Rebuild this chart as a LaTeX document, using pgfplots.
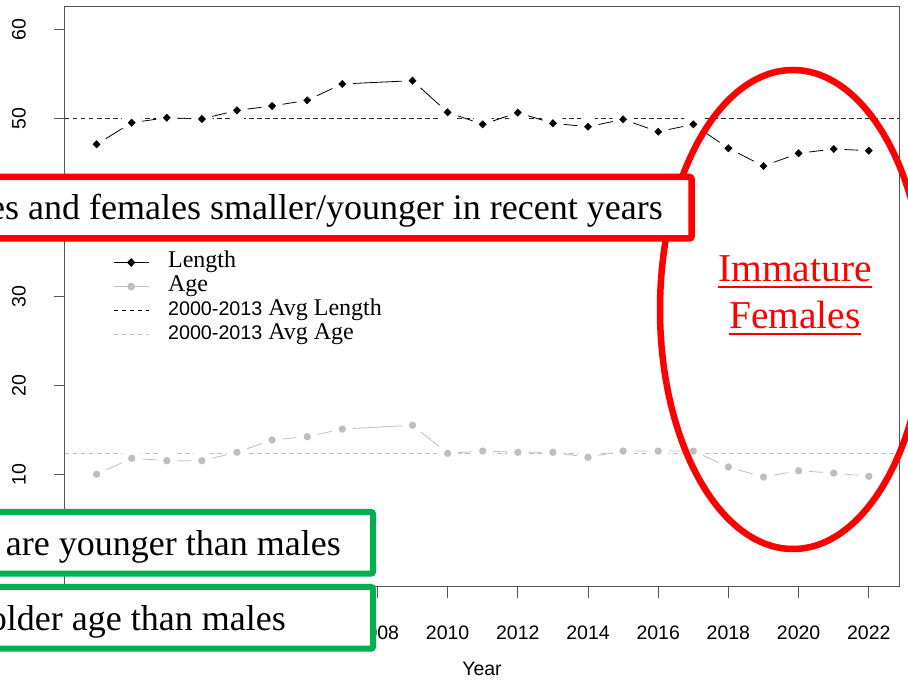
\documentclass[border=0pt]{standalone}
\usepackage{fontspec}
\setmainfont{Liberation Serif}
\newfontfamily\arial{Liberation Sans}
\usepackage{pgfplots}
\usepackage{pgfplotstable}
\pgfplotsset{compat=1.18}
\definecolor{rgray}{RGB}{190,190,190}
\definecolor{okgreen}{RGB}{0,176,80}
\definecolor{axgray}{RGB}{85,85,85}
\newcommand{\ul}[1]{\setbox0\hbox{#1}\rlap{\raisebox{-6.3pt}{\rule{\wd0}{2pt}}}\box0}
\pgfplotsset{
  mylegline/.style={legend image code/.code={\draw[##1] (0pt,0pt) -- (35pt,0pt); \path (54pt,0pt);}},
  mylegmark/.style={legend image code/.code={\draw[mark repeat=2, mark phase=2,##1] plot coordinates {(0pt,0pt)(17.5pt,0pt)(35pt,0pt)}; \path (54pt,0pt);}},
}
\pgfplotstableread{
year len age
2000 47.09 10.05
2001 49.51 11.85
2002 50.07 11.58
2003 49.93 11.58
2004 50.90 12.52
2005 51.39 13.90
2006 52.03 14.27
2007 53.86 15.13
2009 54.23 15.55
2010 50.68 12.40
2011 49.33 12.66
2012 50.64 12.52
2013 49.45 12.52
2014 49.06 11.96
2015 49.89 12.66
2016 48.50 12.66
2017 49.33 12.66
2018 46.64 10.87
2019 44.65 9.74
2020 46.08 10.45
2021 46.56 10.19
2022 46.37 9.82
}\data
\begin{document}
\begin{tikzpicture}[x=1pt,y=1pt]
\useasboundingbox (0pt,0pt) rectangle (908pt,680pt);
\clip (0pt,0pt) rectangle (908pt,680pt);
\begin{axis}[
  at={(65pt,93pt)}, anchor=south west,
  scale only axis, width=834pt, height=580pt,
  xmin=1999.1, xmax=2022.86, ymin=-2.6, ymax=62.5,
  xtick={2000,2002,...,2022}, ytick={0,10,...,60},
  xtick pos=bottom, ytick pos=left,
  tick align=outside, major tick length=11pt,
  tick style={axgray, line width=1pt},
  axis line style={axgray, line width=1pt},
  /pgf/number format/assume math mode=true,
  /pgf/number format/1000 sep={},
  tick label style={font=\arial\fontsize{19.5}{20}\selectfont},
  xticklabel style={anchor=base, inner sep=0pt, yshift=-42pt},
  yticklabel style={xshift=-28pt, rotate=90, anchor=south, inner sep=0pt},
  xlabel={Year},
  xlabel style={font=\arial\fontsize{19.5}{20}\selectfont, at={(axis description cs:0.5,0)}, anchor=base, inner sep=0pt, yshift=-89pt},
  legend style={draw=none, fill=none, at={(axis description cs:0.0576,0.5805)}, anchor=north west, inner sep=0pt,
    font=\fontsize{24}{24}\selectfont, nodes={inner sep=0pt, text height=17pt, text depth=7pt}, row sep=0pt, column sep=0pt},
  legend cell align=left,
]
\addplot[black, line width=0.8pt, forget plot] table[x=year,y=len] {\data};
\addplot[rgray, line width=0.8pt, forget plot] table[x=year,y=age] {\data};
\addplot[white, only marks, mark=*, mark size=10.5pt, mark options={draw=white, fill=white}, forget plot] table[x=year,y=len] {\data};
\addplot[white, only marks, mark=*, mark size=10.5pt, mark options={draw=white, fill=white}, forget plot] table[x=year,y=age] {\data};
\addplot[black!85, line width=0.9pt, dash pattern=on 4.5pt off 3.5pt, forget plot] coordinates {(1999.1,50) (2022.86,50)};
\addplot[rgray, line width=0.9pt, dash pattern=on 4.5pt off 3.5pt, forget plot] coordinates {(1999.1,12.4) (2022.86,12.4)};
\addplot[black, only marks, mark=diamond*, mark size=3.7pt, mark options={xscale=1.3, draw=black, fill=black}, forget plot] table[x=year,y=len] {\data};
\addplot[rgray, only marks, mark=*, mark size=3.4pt, mark options={draw=rgray, fill=rgray}, forget plot] table[x=year,y=age] {\data};
\addlegendimage{mylegmark, black, line width=0.9pt, mark=diamond*, mark size=3.7pt, mark options={xscale=1.3, fill=black}}
\addlegendentry{Length}
\addlegendimage{mylegmark, rgray, line width=0.9pt, mark=*, mark size=3.4pt, mark options={fill=rgray}}
\addlegendentry{Age}
\addlegendimage{mylegline, black, line width=0.9pt, dash pattern=on 4.5pt off 3.5pt}
\addlegendentry{{\arial\fontsize{19.7}{20}\selectfont 2000-2013} Avg Length}
\addlegendimage{mylegline, rgray, line width=0.9pt, dash pattern=on 4.5pt off 3.5pt}
\addlegendentry{{\arial\fontsize{19.7}{20}\selectfont 2000-2013} Avg Age}
\end{axis}
% red ellipse
\draw[red, line width=6.5pt] (793pt,370.5pt) ellipse [x radius=133pt, y radius=239.5pt];
% red banner
\draw[red, line width=6.5pt, fill=white, rounded corners=2pt] (-60pt,441.5pt) rectangle (691.5pt,503pt);
\node[anchor=base east, inner sep=0pt, font=\fontsize{36}{36}\selectfont] at (663pt,460pt) {Males and females smaller/younger in recent years};
% green boxes
\draw[okgreen, line width=6pt, fill=white, rounded corners=2pt] (-60pt,106.3pt) rectangle (373pt,168pt);
\node[anchor=base east, inner sep=0pt, font=\fontsize{36}{36}\selectfont] at (341pt,124pt) {Females are younger than males};
\draw[okgreen, line width=6pt, fill=white, rounded corners=2pt] (-60pt,31.3pt) rectangle (373pt,93pt);
\node[anchor=base east, inner sep=0pt, font=\fontsize{36}{36}\selectfont] at (286pt,49pt) {Females reach older age than males};
% immature females
\node[anchor=base, inner sep=0pt, red, font=\fontsize{39.5}{40}\selectfont] at (795pt,398.3pt) {\ul{Immature}};
\node[anchor=base, inner sep=0pt, red, font=\fontsize{39.5}{40}\selectfont] at (795pt,351pt) {\ul{Females}};
\end{tikzpicture}
\end{document}
